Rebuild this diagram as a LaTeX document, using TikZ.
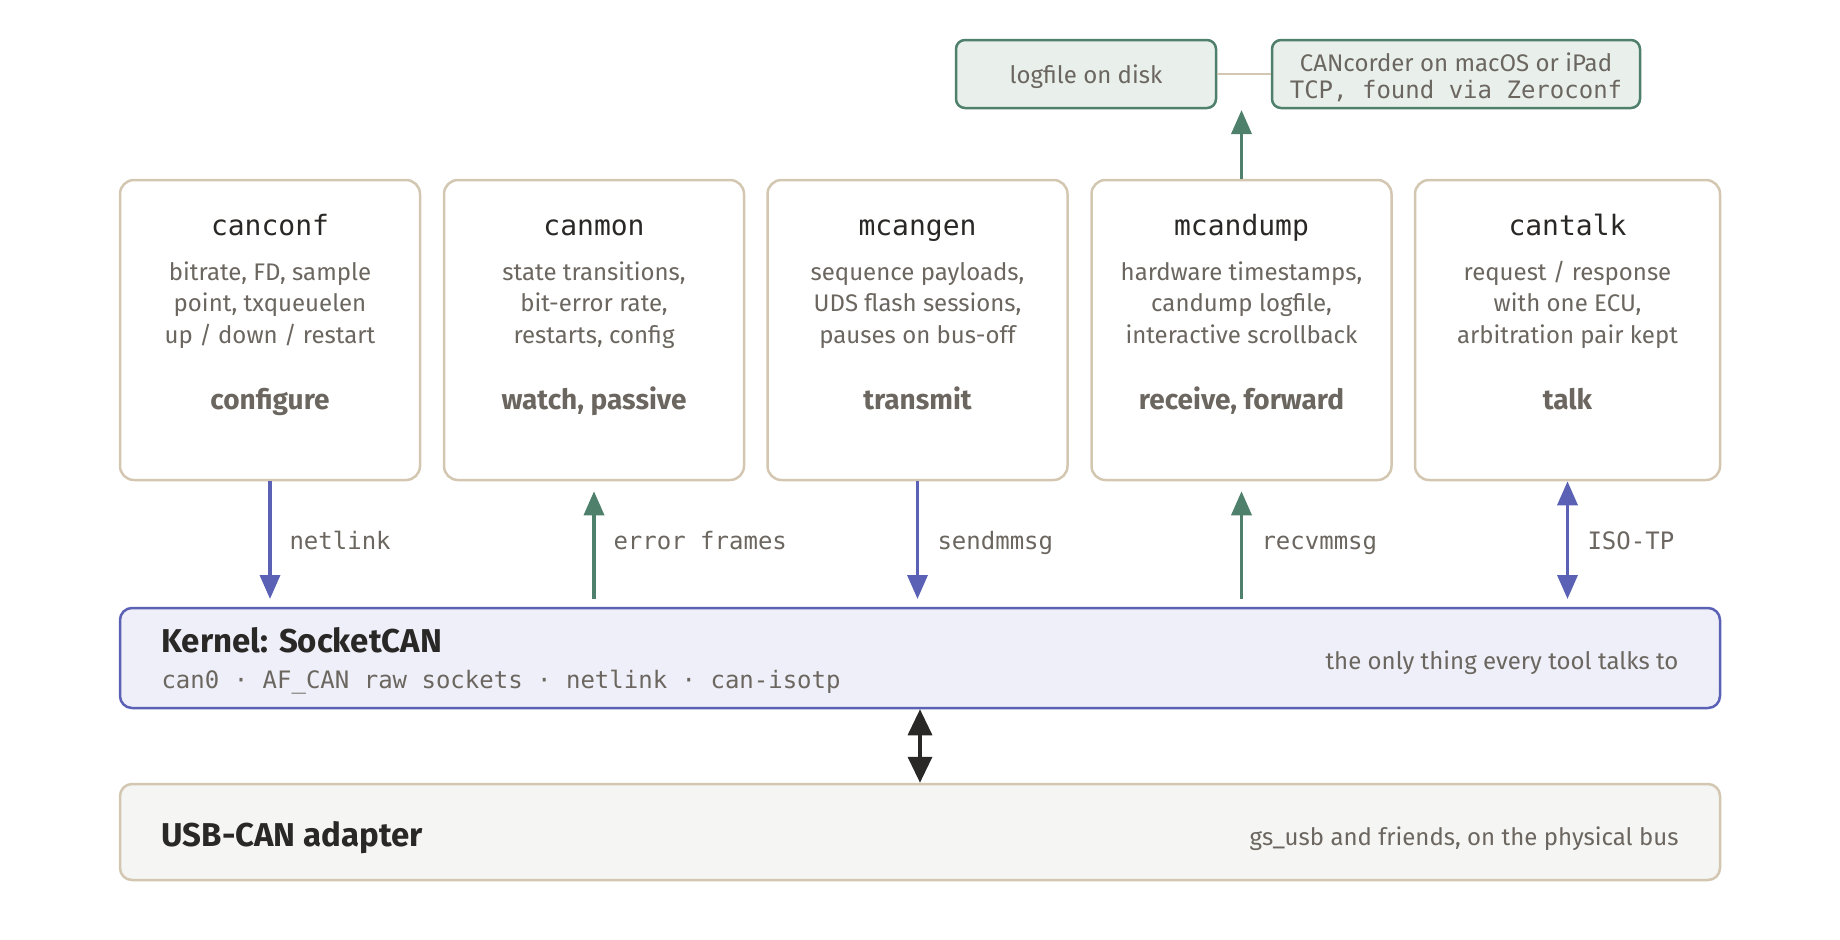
\documentclass[tikz,border=0pt]{standalone}
\usepackage{fontspec}
\setmainfont{Fira Sans}
\setmonofont{DejaVu Sans Mono}
\usetikzlibrary{arrows.meta}
\definecolor{tan}{HTML}{D3C7B1}
\definecolor{kblue}{HTML}{5B62B5}
\definecolor{kfill}{HTML}{EEEFF8}
\definecolor{grn}{HTML}{4F806B}
\definecolor{gfill}{HTML}{E9F0EC}
\definecolor{ufill}{HTML}{F5F5F4}
\definecolor{txt}{HTML}{6B665F}
\definecolor{dark}{HTML}{2A2826}
\begin{document}
\begin{tikzpicture}[x=1pt,y=-1pt,
  tool/.style={draw=tan,line width=2.5pt,rounded corners=14pt,fill=white,minimum width=300pt,minimum height=300pt,inner sep=0pt},
  ttl/.style={font=\ttfamily\fontsize{28}{32}\selectfont,text=dark,anchor=base},
  dsc/.style={font=\fontsize{24}{31.5}\selectfont,text=txt,anchor=base},
  bld/.style={font=\fontsize{28}{32}\selectfont\bfseries,text=txt,anchor=base},
  lbl/.style={font=\ttfamily\fontsize{24}{28}\selectfont,text=txt,anchor=base west},
  top/.style={draw=grn,line width=2.5pt,rounded corners=9pt,fill=gfill,minimum height=68pt,inner sep=0pt},
  arb/.style={draw=kblue,line width=3.5pt,-{Triangle[width=20pt,length=24pt]}},
  arg/.style={draw=grn,line width=3.5pt,-{Triangle[width=20pt,length=24pt]}},
  arbb/.style={draw=kblue,line width=3.5pt,{Triangle[width=20pt,length=24pt]}-{Triangle[width=20pt,length=24pt]}}]
\useasboundingbox (0,0) rectangle (1840,940);
\foreach \n/\x/\w/\t/\a/\b/\c/\k in {
  canconf/270/300/canconf/{bitrate, FD, sample}/{point, txqueuelen}/{up / down / restart}/configure,
  canmon/594/300/canmon/{state transitions,}/{bit-error rate,}/{restarts, config}/{watch, passive},
  mcangen/917.5/300/mcangen/{sequence payloads,}/{UDS flash sessions,}/{pauses on bus-off}/transmit,
  mcandump/1241.5/300/mcandump/{hardware timestamps,}/{candump logfile,}/{interactive scrollback}/{receive, forward},
  cantalk/1567.5/305/cantalk/{request / response}/{with one ECU,}/{arbitration pair kept}/talk}{
  \node[tool,minimum width=\w pt] (\n) at (\x,330) {};
  \node[ttl] (\n-t) at (\x,235) {\t};
  \node[dsc] (\n-a) at (\x,280) {\a};
  \node[dsc] (\n-b) at (\x,311.5) {\b};
  \node[dsc] (\n-c) at (\x,343) {\c};
  \node[bld] (\n-k) at (\x,409) {\k};
}

\node[draw=kblue,line width=2.5pt,rounded corners=12pt,fill=kfill,minimum width=1600pt,minimum height=100pt] (kernel) at (920,658) {};
\node[anchor=base west,font=\fontsize{33}{38}\selectfont\bfseries,text=dark] (kt) at (158,652) {Kernel: SocketCAN};
\node[anchor=base west,font=\ttfamily\fontsize{24}{28}\selectfont,text=txt] (km) at (158,688) {can0 · AF\_CAN raw sockets · netlink · can-isotp};
\node[anchor=base east,font=\fontsize{24}{28}\selectfont,text=txt] (kr) at (1682,669) {the only thing every tool talks to};

\node[draw=tan,line width=2.5pt,rounded corners=12pt,fill=ufill,minimum width=1600pt,minimum height=96pt] (usb) at (920,832) {};
\node[anchor=base west,font=\fontsize{33}{38}\selectfont\bfseries,text=dark] (ut) at (158,846) {USB-CAN adapter};
\node[anchor=base east,font=\fontsize{24}{28}\selectfont,text=txt] (ur) at (1682,845) {gs\_usb and friends, on the physical bus};

\node[top,minimum width=260pt] (log) at (1086,74) {};
\node[font=\fontsize{24}{28}\selectfont,text=txt,anchor=base] at (1086,83) {logfile on disk};
\node[top,minimum width=368pt] (cc) at (1456,74) {};
\node[font=\fontsize{24}{28}\selectfont,text=txt,anchor=base] at (1456,71) {CANcorder on macOS or iPad};
\node[font=\ttfamily\fontsize{24}{28}\selectfont,text=txt,anchor=base] at (1456,98) {TCP, found via Zeroconf};
\draw[tan,line width=2.5pt] (log.east) -- (cc.west);

\coordinate (c1) at (270,599); \coordinate (c2) at (594,599); \coordinate (c3) at (917.5,599);
\coordinate (c4) at (1241.5,599); \coordinate (c5) at (1567.5,599);
\coordinate (ct) at (1241.5,110);
\draw[arb] (canconf.south) -- (c1);
\draw[arg] (c2) -- ([yshift=-10pt]canmon.south);
\draw[arb] (mcangen.south) -- (c3);
\draw[arg] (c4) -- ([yshift=-10pt]mcandump.south);
\draw[arbb] (cantalk.south) -- (c5);
\draw[arg] (mcandump.north) -- (ct);
\node[lbl] at (286,549) {netlink};
\node[lbl] at (610,549) {error frames};
\node[lbl] at (934,549) {sendmmsg};
\node[lbl] at (1258,549) {recvmmsg};
\node[lbl] at (1584,549) {ISO-TP};
\draw[draw=dark,line width=3.5pt,{Triangle[width=24pt,length=26pt]}-{Triangle[width=24pt,length=26pt]}] (kernel.south -| 920,0) -- (usb.north -| 920,0);
\end{tikzpicture}
\end{document}
